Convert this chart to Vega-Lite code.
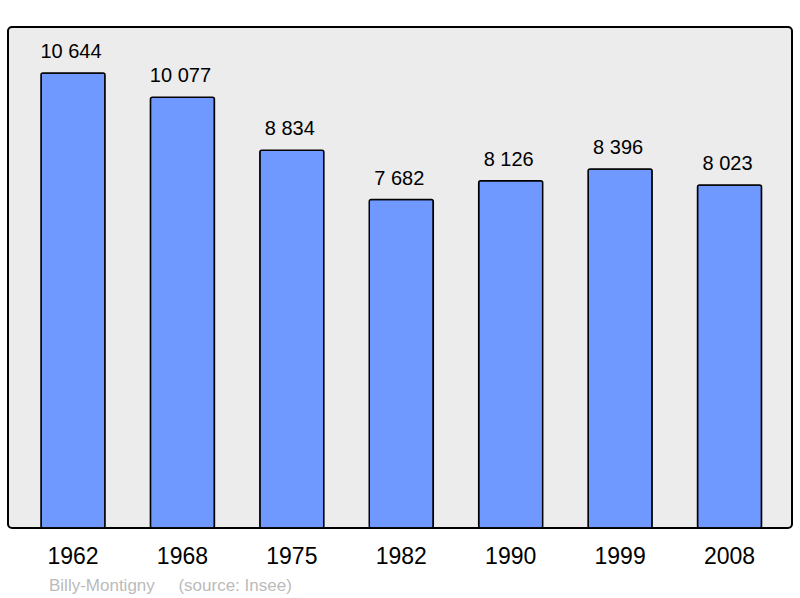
{
  "$schema": "https://vega.github.io/schema/vega-lite/v6.json",
  "width": 784,
  "height": 501,
  "autosize": {"type": "none"},
  "padding": {"left": 8, "top": 27, "right": 8, "bottom": 70},
  "background": "white",
  "title": {
    "text": "Billy-Montigny\u00a0\u00a0\u00a0\u00a0\u00a0(source: Insee)",
    "orient": "bottom",
    "anchor": "start",
    "dx": 41,
    "offset": 10,
    "fontSize": 17,
    "fontWeight": "normal",
    "color": "#bbbbbb",
    "font": "Liberation Sans"
  },
  "data": {
    "values": [
      {"year": "1962", "pop": 10644},
      {"year": "1968", "pop": 10077},
      {"year": "1975", "pop": 8834},
      {"year": "1982", "pop": 7682},
      {"year": "1990", "pop": 8126},
      {"year": "1999", "pop": 8396},
      {"year": "2008", "pop": 8023}
    ]
  },
  "encoding": {
    "x": {
      "field": "year",
      "type": "ordinal",
      "sort": null,
      "scale": {"paddingInner": 0.415, "paddingOuter": 0.29, "align": 0.52},
      "axis": {
        "title": null,
        "ticks": false,
        "domain": false,
        "labelAngle": 0,
        "labelFontSize": 23,
        "labelFont": "Liberation Sans",
        "labelColor": "black",
        "labelPadding": 17
      }
    },
    "y": {
      "field": "pop",
      "type": "quantitative",
      "scale": {"domain": [0, 11720], "nice": false},
      "axis": null
    }
  },
  "layer": [
    {
      "mark": {"type": "bar", "color": "#7099ff", "stroke": "black", "strokeWidth": 1.5, "cornerRadius": 2}
    },
    {
      "mark": {"type": "text", "baseline": "alphabetic", "dx": -2, "dy": -15, "fontSize": 20, "font": "Liberation Sans", "color": "black"},
      "encoding": {"text": {"field": "pop", "type": "quantitative", "format": ","}}
    }
  ],
  "config": {
    "locale": {"number": {"decimal": ",", "thousands": " ", "grouping": [3], "currency": ["", " €"]}},
    "view": {"fill": "#ececec", "stroke": "black", "strokeWidth": 2, "cornerRadius": 4}
  }
}
